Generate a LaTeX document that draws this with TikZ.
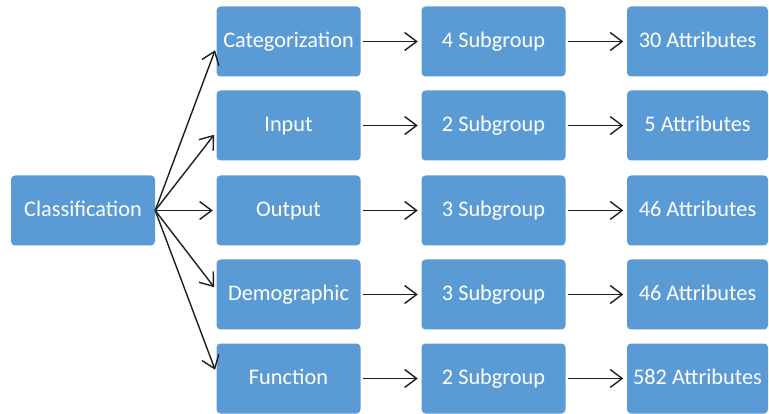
\documentclass[tikz,border=0pt]{standalone}
\usepackage{fontspec}
\setmainfont{Carlito}
\usetikzlibrary{arrows.meta}
\definecolor{boxblue}{HTML}{5B9BD5}
\definecolor{linegray}{HTML}{1E1E1E}
\tikzset{
  blk/.style={draw=none, fill=boxblue, rounded corners=4pt, minimum height=70pt,
    text=white, font=\fontsize{22.3}{25}\selectfont, inner sep=0pt, anchor=center,
    text height=14.2pt, text depth=1.5pt},
  c1/.style={blk, minimum width=144pt},
  c4/.style={blk, minimum width=141pt},
  conn/.style={draw=linegray, line width=1.4pt,
    -{Straight Barb[length=12pt,width=18pt,line width=1.4pt]}},
  hconn/.style={conn, shorten <=2pt, shorten >=3.5pt},
  fconn/.style={conn, shorten >=3.5pt}
}
\begin{document}
\begin{tikzpicture}[x=1pt,y=-1pt]
\useasboundingbox (0,0) rectangle (769,414);
\node[c1] (cls) at (83,210.5) {Classification};
\node[c1] (cat) at (288.5,41.5) {Categorization};
\node[c1] (inp) at (288.5,125.5) {Input};
\node[c1] (out) at (288.5,210.5) {Output};
\node[c1] (dem) at (288.5,294.5) {Demographic};
\node[c1] (fun) at (288.5,378.5) {Function};
\node[c1] (s1) at (493.5,41.5) {4 Subgroup};
\node[c1] (s2) at (493.5,125.5) {2 Subgroup};
\node[c1] (s3) at (493.5,210.5) {3 Subgroup};
\node[c1] (s4) at (493.5,294.5) {3 Subgroup};
\node[c1] (s5) at (493.5,378.5) {2 Subgroup};
\node[c4] (a1) at (697.5,41.5) {30 Attributes};
\node[c4] (a2) at (697.5,125.5) {5 Attributes};
\node[c4] (a3) at (697.5,210.5) {46 Attributes};
\node[c4] (a4) at (697.5,294.5) {46 Attributes};
\node[c4] (a5) at (697.5,378.5) {582 Attributes};
\draw[fconn] (cls.east) -- ([yshift=-5.5pt]cat.west);
\draw[fconn] (cls.east) -- ([yshift=-6.5pt]inp.west);
\draw[fconn] (cls.east) -- (out.west);
\draw[fconn] (cls.east) -- ([yshift=4.5pt]dem.west);
\draw[fconn] (cls.east) -- ([yshift=5.5pt]fun.west);
\draw[hconn] (cat) -- (s1);
\draw[hconn] (inp) -- (s2);
\draw[hconn] (out) -- (s3);
\draw[hconn] (dem) -- (s4);
\draw[hconn] (fun) -- (s5);
\draw[hconn] (s1) -- (a1);
\draw[hconn] (s2) -- (a2);
\draw[hconn] (s3) -- (a3);
\draw[hconn] (s4) -- (a4);
\draw[hconn] (s5) -- (a5);
\end{tikzpicture}
\end{document}
